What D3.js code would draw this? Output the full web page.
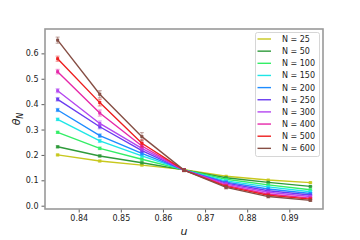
<!DOCTYPE html>
<html lang="en">
<head>
<meta charset="utf-8">
<script src="https://d3js.org/d3.v7.min.js"></script>
<style>
  body { margin: 0; background: #fff; }
  text { font-family: "DejaVu Sans", sans-serif; fill: #222; }
</style>
</head>
<body>
<svg width="360" height="240"></svg>
<script>

// data
var uValues = [0.835, 0.845, 0.855, 0.865, 0.875, 0.885, 0.895];
var sizes = [25, 50, 100, 150, 200, 250, 300, 400, 500, 600];
var colors = ["#c8c81e", "#2e9a3a", "#33ee66", "#1ee6e6", "#1e8cff",
              "#6a3cf0", "#b446f0", "#e628aa", "#ee1e1e", "#864e44"];

var theta25  = [0.200, 0.176, 0.160, 0.142, 0.116, 0.101, 0.091];
var theta50  = [0.232, 0.196, 0.169, 0.141, 0.110, 0.092, 0.076];
var theta100 = [0.289, 0.226, 0.183, 0.141, 0.104, 0.082, 0.063];
var theta150 = [0.340, 0.255, 0.196, 0.140, 0.098, 0.074, 0.055];
var theta200 = [0.377, 0.276, 0.206, 0.140, 0.093, 0.066, 0.048];
var theta250 = [0.419, 0.311, 0.217, 0.140, 0.089, 0.059, 0.042];
var theta300 = [0.453, 0.324, 0.226, 0.140, 0.085, 0.053, 0.036];
var theta400 = [0.528, 0.365, 0.235, 0.140, 0.080, 0.046, 0.030];
var theta500 = [0.579, 0.406, 0.246, 0.140, 0.076, 0.041, 0.026];
var theta600 = [0.652, 0.439, 0.272, 0.140, 0.072, 0.036, 0.021];

var err25  = [0.003, 0.003, 0.003, 0.002, 0.002, 0.002, 0.002];
var err50  = [0.004, 0.004, 0.004, 0.003, 0.003, 0.003, 0.002];
var err100 = [0.004, 0.005, 0.005, 0.003, 0.003, 0.003, 0.003];
var err150 = [0.005, 0.006, 0.006, 0.004, 0.004, 0.003, 0.003];
var err200 = [0.006, 0.007, 0.007, 0.004, 0.004, 0.004, 0.003];
var err250 = [0.007, 0.008, 0.008, 0.004, 0.004, 0.004, 0.003];
var err300 = [0.008, 0.010, 0.010, 0.005, 0.005, 0.004, 0.004];
var err400 = [0.009, 0.012, 0.012, 0.005, 0.005, 0.004, 0.004];
var err500 = [0.010, 0.013, 0.014, 0.005, 0.006, 0.005, 0.004];
var err600 = [0.012, 0.014, 0.016, 0.006, 0.006, 0.005, 0.004];

var yTicks = [0.0, 0.1, 0.2, 0.3, 0.4, 0.5, 0.6];
var xTicks = [0.84, 0.85, 0.86, 0.87, 0.88, 0.89];

var thetas = [theta25, theta50, theta100, theta150, theta200, theta250, theta300, theta400, theta500, theta600];
var errs = [err25, err50, err100, err150, err200, err250, err300, err400, err500, err600];

var series = sizes.map(function(n, i) {
    return {
        n: n,
        color: colors[i],
        pts: uValues.map(function(u, j) { return {u: u, v: thetas[i][j], e: errs[i][j]}; })
    };
});

var svg = d3.select("svg");
var plotL = 45, plotR = 323, plotT = 29, plotB = 209;

var x = d3.scaleLinear().domain([0.832, 0.898]).range([plotL, plotR]);
var y = d3.scaleLinear().domain([-0.013, 0.696]).range([plotB, plotT]);

// axes
var xAxis = svg.append("g")
    .attr("transform", "translate(0," + plotB + ")")
    .call(d3.axisBottom(x).tickValues(xTicks).tickFormat(d3.format(".2f")).tickSize(3.5).tickPadding(3));
var yAxis = svg.append("g")
    .attr("transform", "translate(" + plotL + ",0)")
    .call(d3.axisLeft(y).tickValues(yTicks).tickFormat(d3.format(".1f")).tickSize(3.5).tickPadding(3));

[xAxis, yAxis].forEach(function(a) {
    a.select(".domain").remove();
    a.selectAll(".tick line").attr("stroke", "#333").attr("stroke-width", 0.8);
    a.selectAll(".tick text").style("font-size", "8px").style("font-family", "DejaVu Sans").attr("fill", "#222");
});

// frame
svg.append("rect")
    .attr("x", plotL).attr("y", plotT)
    .attr("width", plotR - plotL).attr("height", plotB - plotT)
    .attr("fill", "none").attr("stroke", "#999").attr("stroke-width", 1.6);

var line = d3.line().x(function(d) { return x(d.u); }).y(function(d) { return y(d.v); });

var g = svg.selectAll(".series").data(series).enter().append("g").attr("class", "series");

// error bars
g.each(function(s) {
    var sel = d3.select(this);
    var eb = sel.selectAll(".eb").data(s.pts).enter().append("g")
        .attr("stroke", s.color).attr("stroke-opacity", 0.45).attr("stroke-width", 1.2);
    eb.append("line")
        .attr("x1", function(d) { return x(d.u); }).attr("x2", function(d) { return x(d.u); })
        .attr("y1", function(d) { return y(d.v - d.e); }).attr("y2", function(d) { return y(d.v + d.e); });
    eb.append("line")
        .attr("x1", function(d) { return x(d.u) - 2; }).attr("x2", function(d) { return x(d.u) + 2; })
        .attr("y1", function(d) { return y(d.v - d.e); }).attr("y2", function(d) { return y(d.v - d.e); });
    eb.append("line")
        .attr("x1", function(d) { return x(d.u) - 2; }).attr("x2", function(d) { return x(d.u) + 2; })
        .attr("y1", function(d) { return y(d.v + d.e); }).attr("y2", function(d) { return y(d.v + d.e); });
});

g.append("path")
    .attr("d", function(s) { return line(s.pts); })
    .attr("fill", "none")
    .attr("stroke", function(s) { return s.color; })
    .attr("stroke-width", 1.4);

g.each(function(s) {
    d3.select(this).selectAll(".pt").data(s.pts).enter().append("rect")
        .attr("x", function(d) { return x(d.u) - 1.5; })
        .attr("y", function(d) { return y(d.v) - 1.5; })
        .attr("width", 3).attr("height", 3)
        .attr("fill", s.color);
});

// axis labels
svg.append("text")
    .attr("transform", "translate(20,119) rotate(-90)")
    .attr("text-anchor", "middle")
    .style("font-size", "11px")
    .html('<tspan font-style="italic">θ</tspan><tspan font-style="italic" font-size="8px" dy="2.5">N</tspan>');

svg.append("text")
    .attr("x", (plotL + plotR) / 2).attr("y", 235)
    .attr("text-anchor", "middle")
    .style("font-size", "11px").style("font-style", "italic")
    .text("u");

// legend
var lg = svg.append("g");
lg.append("rect")
    .attr("x", 255.5).attr("y", 32.5).attr("width", 64).attr("height", 124)
    .attr("rx", 2).attr("fill", "#fff").attr("stroke", "#ccc").attr("stroke-width", 0.8);
var item = lg.selectAll(".item").data(series).enter().append("g")
    .attr("transform", function(d, i) { return "translate(0," + (39 + i * 12.15) + ")"; });
item.append("line")
    .attr("x1", 257.5).attr("x2", 271).attr("y1", 0).attr("y2", 0)
    .attr("stroke", function(d) { return d.color; }).attr("stroke-width", 1.4);
item.append("text")
    .attr("x", 282).attr("y", 3)
    .style("font-size", "8px")
    .text(function(d) { return "N = " + d.n; });

</script>
</body>
</html>
